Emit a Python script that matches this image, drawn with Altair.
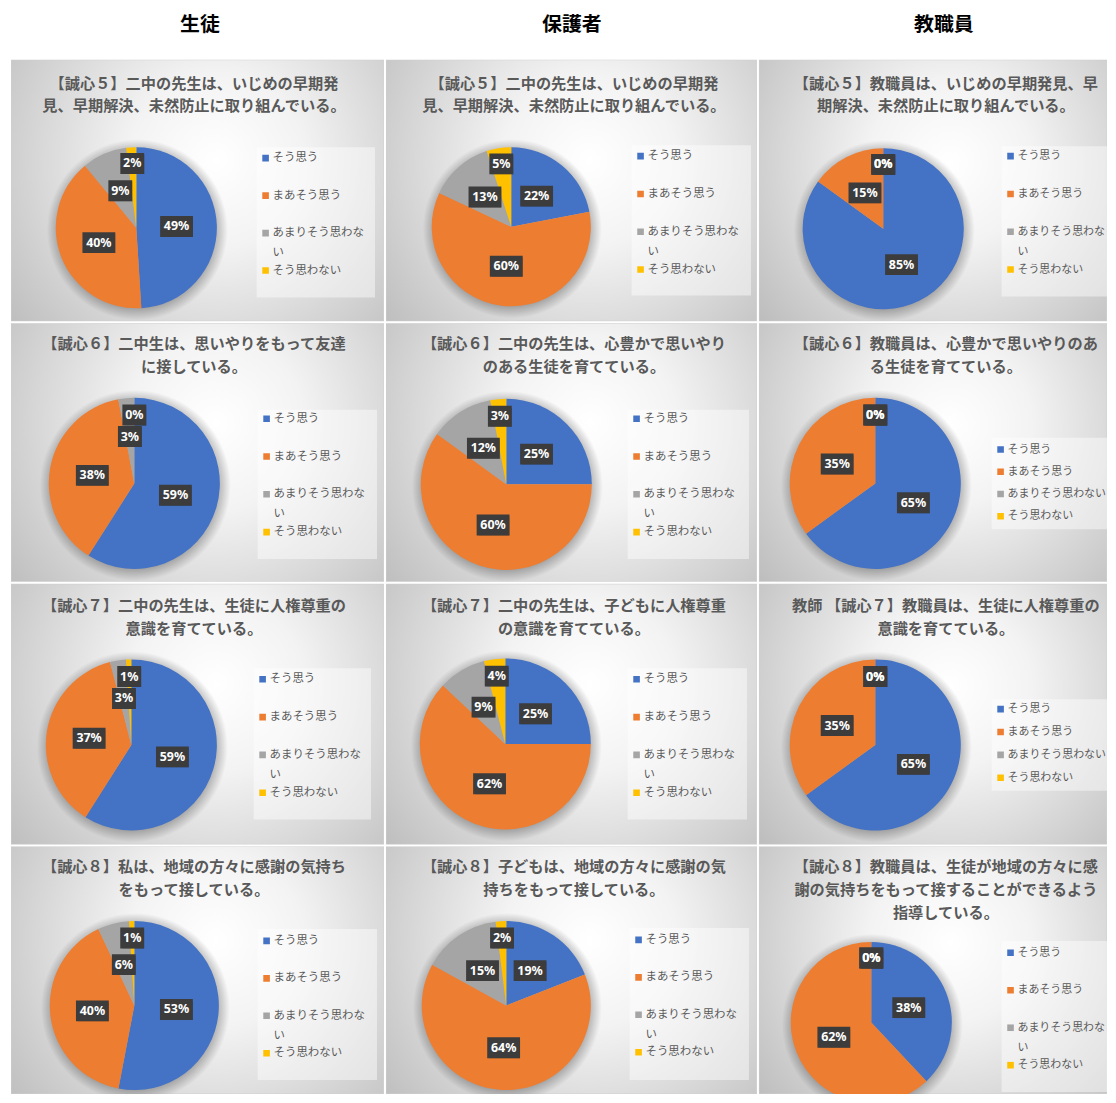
import math
import altair as alt
import pandas as pd

# ---------------- data ----------------
categories = ["そう思う", "まあそう思う", "あまりそう思わない", "そう思わない"]
colors = ["#4472C4", "#ED7D31", "#A5A5A5", "#FFC000"]
headers = ["生徒", "保護者", "教職員"]

student_5 = [49, 40, 9, 2]
student_6 = [59, 38, 3, 0]
student_7 = [59, 37, 3, 1]
student_8 = [53, 40, 6, 1]
parent_5 = [22, 60, 13, 5]
parent_6 = [25, 60, 12, 3]
parent_7 = [25, 62, 9, 4]
parent_8 = [19, 64, 15, 2]
staff_5 = [85, 15, 0, 0]
staff_6 = [65, 35, 0, 0]
staff_7 = [65, 35, 0, 0]
staff_8 = [38, 62, 0, 0]

titles_student = [
    "【誠心５】二中の先生は、いじめの早期発\n見、早期解決、未然防止に取り組んでいる。",
    "【誠心６】二中生は、思いやりをもって友達\nに接している。",
    "【誠心７】二中の先生は、生徒に人権尊重の\n意識を育てている。",
    "【誠心８】私は、地域の方々に感謝の気持ち\nをもって接している。",
]
titles_parent = [
    "【誠心５】二中の先生は、いじめの早期発\n見、早期解決、未然防止に取り組んでいる。",
    "【誠心６】二中の先生は、心豊かで思いやり\nのある生徒を育てている。",
    "【誠心７】二中の先生は、子どもに人権尊重\nの意識を育てている。",
    "【誠心８】子どもは、地域の方々に感謝の気\n持ちをもって接している。",
]
titles_staff = [
    "【誠心５】教職員は、いじめの早期発見、早\n期解決、未然防止に取り組んでいる。",
    "【誠心６】教職員は、心豊かで思いやりのあ\nる生徒を育てている。",
    "教師 【誠心７】教職員は、生徒に人権尊重の\n意識を育てている。",
    "【誠心８】教職員は、生徒が地域の方々に感\n謝の気持ちをもって接することができるよう\n指導している。",
]

# ---------------- layout (per panel) ----------------
col_w = [375, 373, 350]
row_h = [263, 260, 262, 249]
title_x = [184, 189, 188]
title_y = [17, 14, 15, 14]
legend_font = [11.5, 11.5, 11]

# pie (cx, cy, r), legend box (x0, y0, x1, y1), first / last item y, wrap long label
geo = [
    [dict(pie=(126, 169, 81), box=(247, 88, 366, 239), items=(99, 212), wrap=True),
     dict(pie=(126, 168, 80), box=(247, 86, 367, 237), items=(97, 211), wrap=True),
     dict(pie=(125, 170, 81), box=(244, 87, 350, 238), items=(97, 211), wrap=True)],
    [dict(pie=(124, 161, 86), box=(248, 87, 368, 237), items=(96, 210), wrap=True),
     dict(pie=(121, 162, 86), box=(243, 87, 365, 237), items=(96, 210), wrap=True),
     dict(pie=(117, 161, 86), box=(234, 115, 350, 207), items=(127, 194), wrap=False)],
    [dict(pie=(121, 162, 86), box=(244, 85, 362, 237), items=(96, 210), wrap=True),
     dict(pie=(120, 161, 86), box=(243, 85, 363, 237), items=(96, 210), wrap=True),
     dict(pie=(117, 162, 86), box=(234, 116, 350, 208), items=(126, 195), wrap=False)],
    [dict(pie=(124, 160, 85), box=(248, 83, 368, 235), items=(95, 208), wrap=True),
     dict(pie=(121, 160, 85), box=(245, 82, 365, 235), items=(94, 207), wrap=True),
     dict(pie=(113, 177, 81), box=(244, 95, 350, 247), items=(107, 220), wrap=True)],
]

JP = "Noto Sans CJK JP"
one = alt.Data(values=[{"k": 1}])

bg_grad = {
    "gradient": "radial",
    "x1": 0.55, "y1": 0.42, "r1": 0,
    "x2": 0.55, "y2": 0.42, "r2": 0.78,
    "stops": [
        {"offset": 0, "color": "#ffffff"},
        {"offset": 0.3, "color": "#f3f3f3"},
        {"offset": 1, "color": "#b5b5b5"},
    ],
}


def panel(values, title, W, H, tx, ty, g, lfont):
    cx, cy, r = g["pie"]
    x0, y0, x1, y1 = g["box"]
    yf, yl = g["items"]
    df = pd.DataFrame({"cat": categories, "v": values, "idx": list(range(len(categories)))})
    base = alt.Chart(df)

    bg = alt.Chart(one).mark_rect(color=bg_grad, stroke="#d0d0d0", strokeWidth=1, clip=True).encode(
        x=alt.value(0), x2=alt.value(W), y=alt.value(0), y2=alt.value(H)
    )
    ttl = alt.Chart(one).mark_text(
        lineBreak="\n", lineHeight=23, font=JP, fontSize=15.3, fontWeight="bold",
        color="#595959", align="center", baseline="top", clip=True
    ).encode(x=alt.value(tx), y=alt.value(ty), text=alt.value(title))

    R = r + 10
    shadow_grad = {
        "gradient": "radial",
        "x1": 0.5, "y1": 0.5, "r1": 0, "x2": 0.5, "y2": 0.5, "r2": 0.5,
        "stops": [
            {"offset": 0, "color": "rgba(0,0,0,0.28)"},
            {"offset": (r - 3) / R, "color": "rgba(0,0,0,0.28)"},
            {"offset": 1, "color": "rgba(0,0,0,0)"},
        ],
    }
    shadow = alt.Chart(one).mark_arc(
        radius=R, theta=0, theta2=2 * math.pi, color=shadow_grad, clip=True
    ).encode(x=alt.value(cx + 1), y=alt.value(cy + 2))

    pie = base.mark_arc(radius=r, clip=True).encode(
        theta=alt.Theta("v:Q", stack=True),
        color=alt.Color("cat:N", scale=alt.Scale(domain=categories, range=colors), legend=None),
        order=alt.Order("idx:Q"),
        x=alt.value(cx),
        y=alt.value(cy),
    )

    # legend (drawn inside the panel like the Excel chart)
    leg_box = alt.Chart(one).mark_rect(color="#ffffff", opacity=0.45, clip=True).encode(
        x=alt.value(x0), x2=alt.value(x1), y=alt.value(y0), y2=alt.value(y1)
    )
    ypos = alt.Y("cat:N", scale=alt.Scale(domain=categories, range=[yf, yl], padding=0), axis=None)
    leg_sym = base.mark_square(size=44, opacity=1, clip=True).encode(
        x=alt.value(x0 + 9),
        y=ypos,
        color=alt.Color("cat:N", scale=alt.Scale(domain=categories, range=colors), legend=None),
    )
    if g["wrap"]:
        lab_expr = "datum.cat == 'あまりそう思わない' ? 'あまりそう思わな~い' : datum.cat"
    else:
        lab_expr = "datum.cat"
    leg_txt = base.transform_calculate(lab=lab_expr).mark_text(
        lineBreak="~", lineHeight=20, font=JP, fontSize=lfont, color="#595959",
        align="left", baseline="top", dy=-6, clip=True
    ).encode(x=alt.value(x0 + 16), y=ypos, text="lab:N")

    # data labels
    lab = (
        base.transform_joinaggregate(total="sum(v)")
        .transform_window(cum="sum(v)", sort=[alt.SortField("idx")])
        .transform_window(
            window=[alt.WindowFieldDef(op="lead", field="v", **{"as": "nxt"})],
            sort=[alt.SortField("idx")],
        )
        .transform_calculate(
            f="datum.v > 5 ? 0.5 : ((datum.v > 0 && datum.nxt != null && datum.nxt <= 2) ? 0.55 : 0.8)"
        )
        .transform_calculate(mid="(datum.cum - datum.v / 2) / datum.total * 2 * PI")
        .transform_calculate(lx=f"{cx} + datum.f * {r} * sin(datum.mid)")
        .transform_calculate(ly=f"{cy} - datum.f * {r} * cos(datum.mid)")
        .transform_calculate(label="datum.v + '%'")
        .transform_calculate(hw="(9 * length(datum.label) + 6) / 2")
        .transform_calculate(bx1="datum.lx - datum.hw")
        .transform_calculate(bx2="datum.lx + datum.hw")
        .transform_calculate(by1="datum.ly - 10.5")
        .transform_calculate(by2="datum.ly + 10.5")
    )
    benc = dict(
        x=alt.X("bx1:Q", scale=None, axis=None),
        x2="bx2:Q",
        y=alt.Y("by1:Q", scale=None, axis=None),
        y2="by2:Q",
    )
    box_sh = lab.mark_rect(color="#000000", opacity=0.3, xOffset=2, yOffset=2, clip=True).encode(**benc)
    box = lab.mark_rect(color="#3c3c3c", clip=True).encode(**benc)
    txt = lab.mark_text(
        color="white", font="Noto Sans", fontSize=12.5, fontWeight="bold",
        align="center", baseline="middle", clip=True
    ).encode(
        x=alt.X("lx:Q", scale=None, axis=None),
        y=alt.Y("ly:Q", scale=None, axis=None),
        text="label:N",
    )

    return alt.layer(bg, ttl, shadow, pie, leg_box, leg_sym, leg_txt, box_sh, box, txt).properties(
        width=W, height=H
    )


data_cols = [
    [student_5, student_6, student_7, student_8],
    [parent_5, parent_6, parent_7, parent_8],
    [staff_5, staff_6, staff_7, staff_8],
]
title_cols = [titles_student, titles_parent, titles_staff]

rows = []
for ri in range(4):
    panels = []
    for ci in range(3):
        panels.append(
            panel(data_cols[ci][ri], title_cols[ci][ri], col_w[ci], row_h[ri],
                  title_x[ci], title_y[ri], geo[ri][ci], legend_font[ci])
        )
    rows.append(alt.hconcat(*panels, spacing=0))

header = alt.Chart(pd.DataFrame({"h": headers})).mark_text(
    font=JP, fontSize=20, fontWeight="bold", color="#000000", baseline="middle"
).encode(
    x=alt.X("h:N", scale=alt.Scale(domain=headers, range=[190, 938], padding=0), axis=None),
    y=alt.value(13),
    text="h:N",
).properties(width=sum(col_w), height=46)

chart = (
    alt.vconcat(header, *rows, spacing=0)
    .properties(padding={"left": 2, "top": 0, "right": 0, "bottom": 0})
    .configure_view(stroke="transparent")
)

chart.save("out.html", embed_options={"renderer": "svg", "actions": False})
